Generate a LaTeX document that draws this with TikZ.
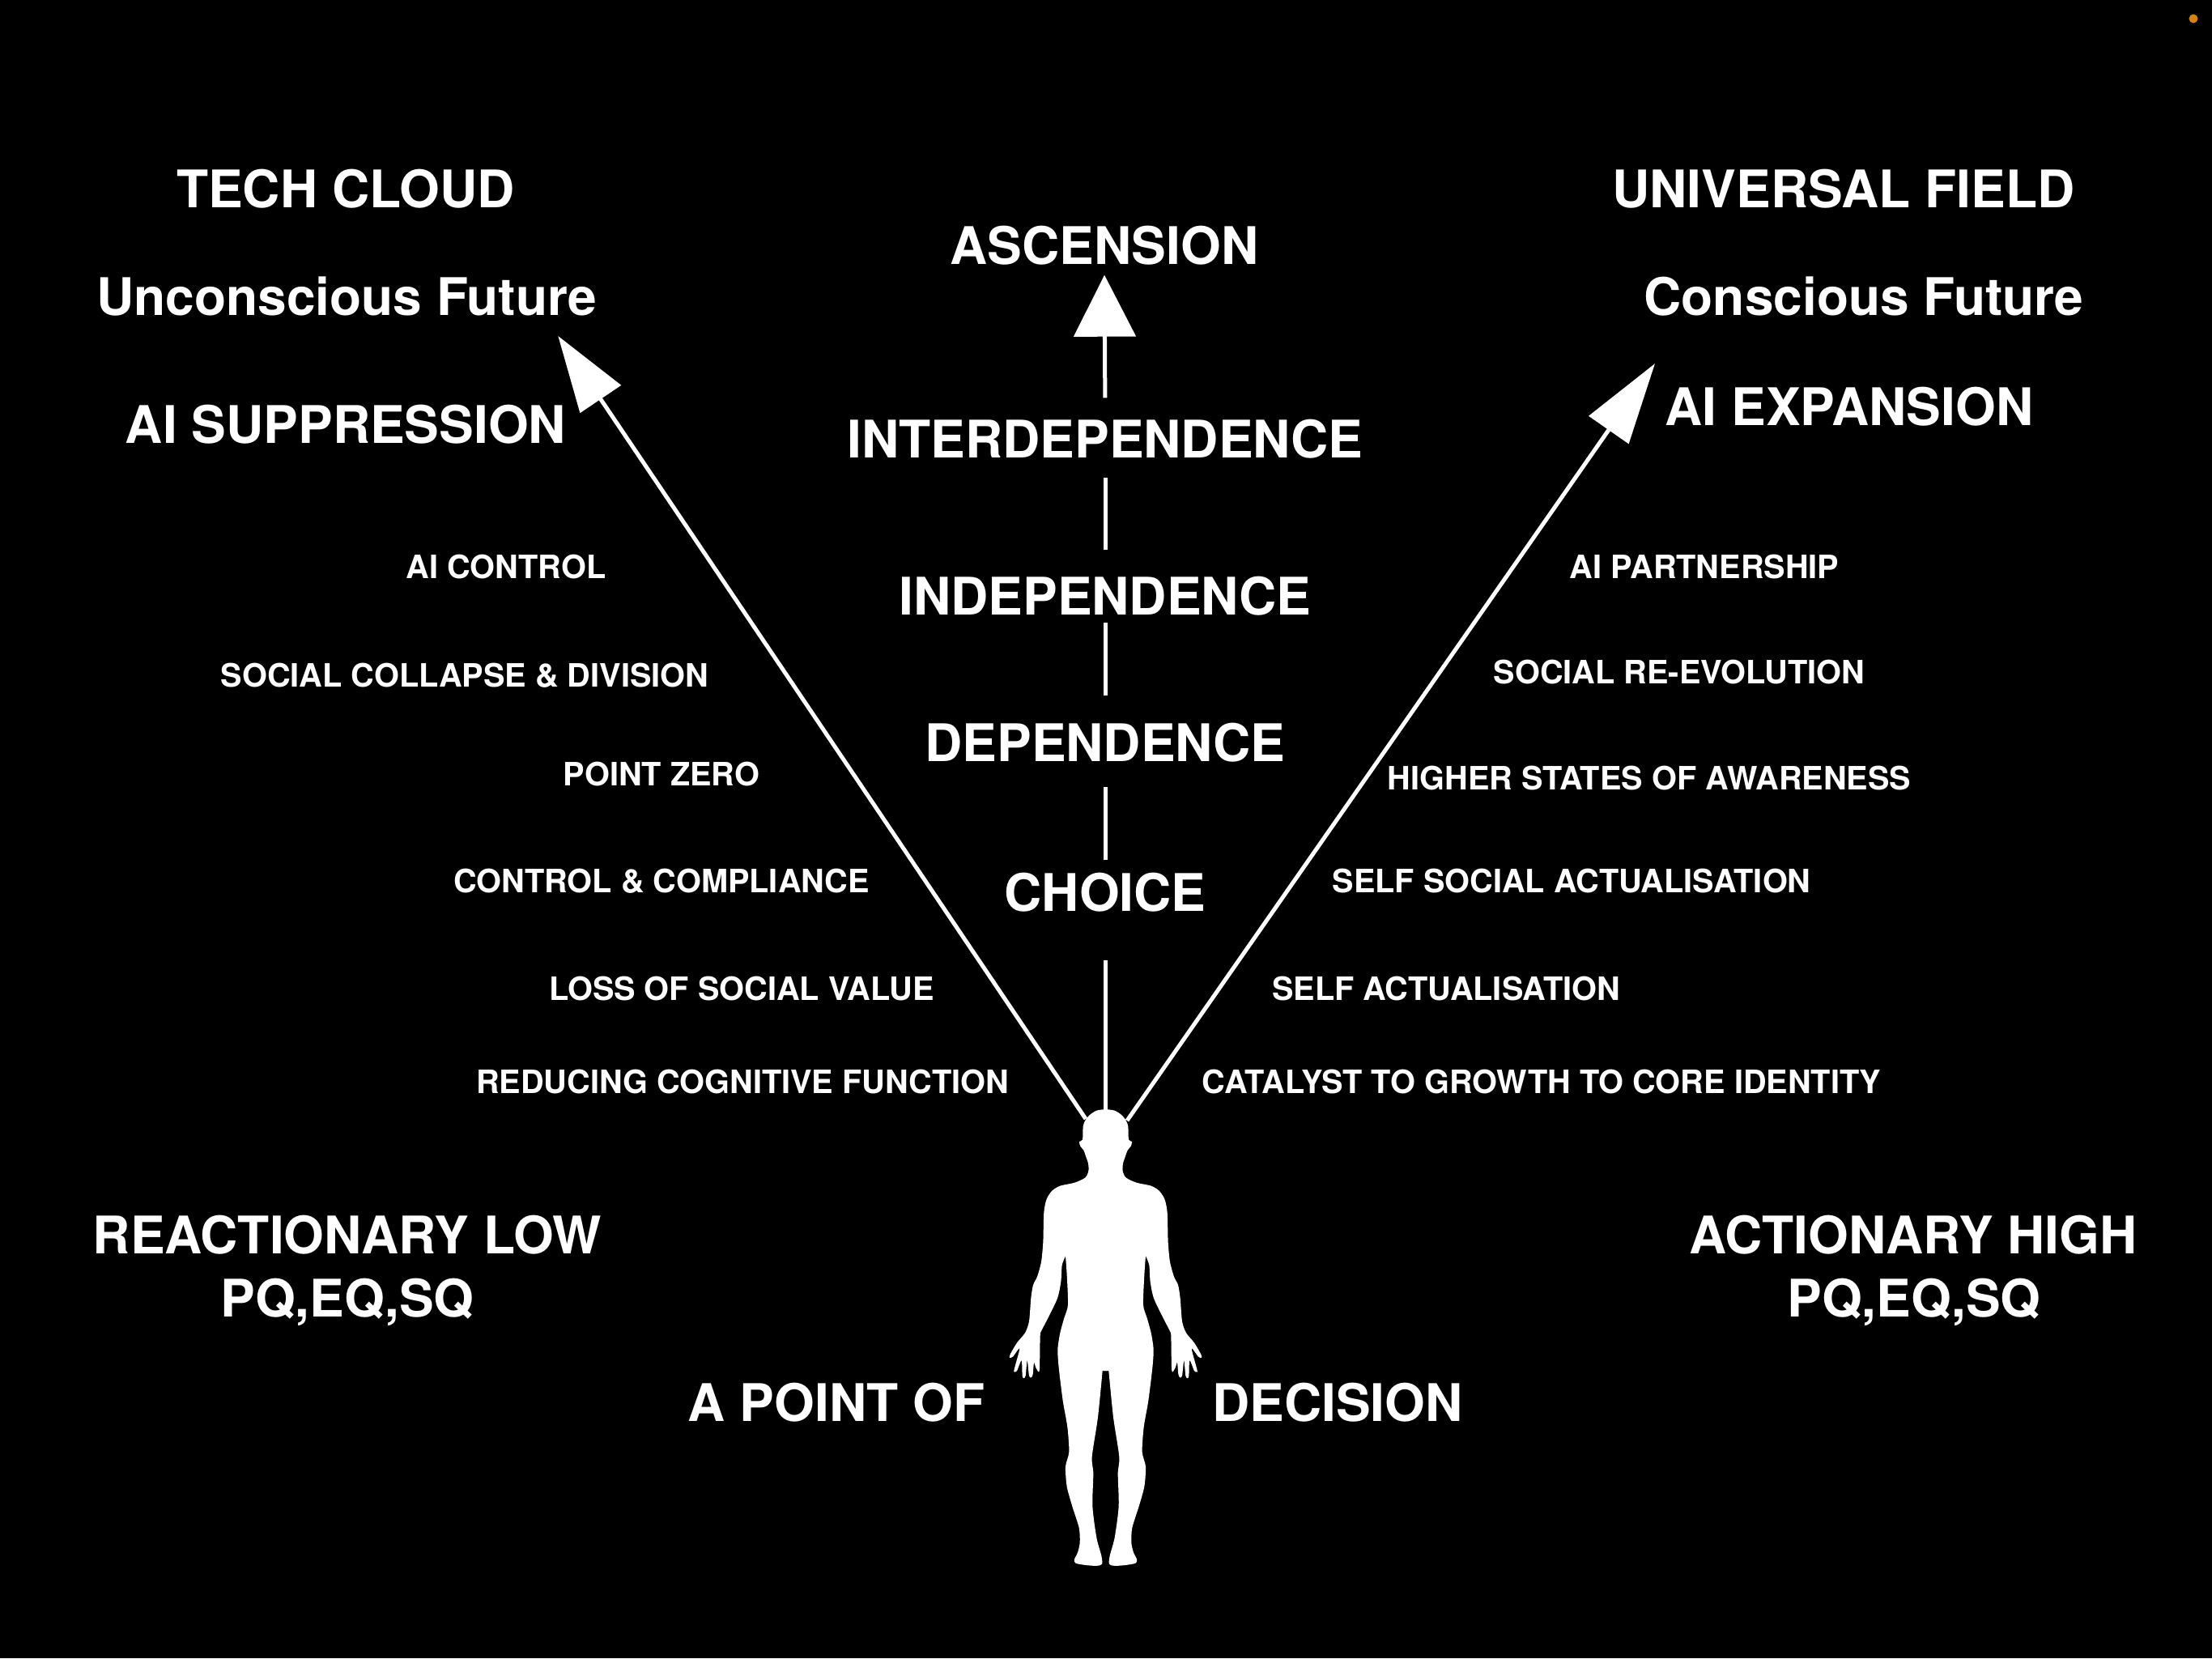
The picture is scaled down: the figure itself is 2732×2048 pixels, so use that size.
\documentclass[tikz,border=0pt]{standalone}
\usepackage{fontspec}
\setmainfont{TeX Gyre Heros}
\usetikzlibrary{arrows.meta}
\tikzset{
  biglabel/.style={inner sep=0pt,text=white,font=\fontsize{64}{70}\selectfont\bfseries,text height=47pt,text depth=0pt,anchor=center},
  smalllabel/.style={inner sep=0pt,text=white,font=\fontsize{39.7}{46}\selectfont\bfseries,text height=30pt,text depth=0pt,anchor=center},
  spine/.style={draw=white,line width=5pt},
  uptip/.style={draw=white,line width=5pt,-{Triangle[length=76pt,width=76pt,fill=white]}},
  lefttip/.style={draw=white,line width=5pt,-{Triangle[length=94pt,width=60pt,fill=white]}},
  righttip/.style={draw=white,line width=5pt,-{Triangle[length=100pt,width=59pt,fill=white]}},
  bodyfill/.style={fill=white,draw=none}
}
\newcommand{\halfbody}{%
  plot[smooth,tension=.45] coordinates {(646,98) (680,102) (705,115) (722,132) (730,150) (732,190) (744,196) (740,210) (728,222) (720,240) (711,262) (710,285) (722,305) (760,320) (815,330) (845,345) (865,370) (875,410) (878,500) (885,560) (900,605) (915,630) (923,670) (930,740) (945,775) (975,805) (1000,840) (1002,850) (990,847) (965,822) (985,885) (985,893) (975,890) (958,858) (955,905) (950,912) (943,905) (937,858) (930,905) (922,910) (916,900) (912,865) (905,880) (895,893) (891,880) (889,785) (885,770) (860,730) (825,670) (812,620) (808,570) (795,542)}
  -- plot[smooth,tension=.45] coordinates {(795,542) (790,600) (786,690) (800,730) (815,775) (824,825) (820,880) (805,980) (788,1060) (782,1135) (795,1180) (790,1240) (770,1300) (745,1365) (742,1410) (750,1440) (762,1460) (758,1472) (720,1478) (680,1480) (660,1475) (662,1450) (680,1395) (695,1300) (692,1200) (697,1150) (675,1030) (658,890)}
  -- (640,890) -- (640,98) -- cycle}
\begin{document}
\begin{tikzpicture}[x=1pt,y=-1pt]
\useasboundingbox (0,0) rectangle (2732,2048);
\fill[black] (0,0) rectangle (2732,2048);
\fill[fill={rgb,255:red,214;green,130;blue,12}] (2709,23) circle (5.5pt);
% figure
\begin{scope}[shift={(1150,1330)},x=0.33333pt,y=-0.408pt]
  \path[bodyfill] \halfbody;
\end{scope}
\begin{scope}[shift={(1581,1330)},x=-0.33333pt,y=-0.408pt]
  \path[bodyfill] \halfbody;
\end{scope}
% anchors
\coordinate (crownL) at (1341,1382);
\coordinate (crownC) at (1365,1373);
\coordinate (crownR) at (1392,1384);
\coordinate (tipL) at (689.3,415);
\coordinate (tipR) at (2044,449);
% spine labels
\node[biglabel] (ascension) at (1364,303) {ASCENSION};
\node[biglabel] (inter) at (1365,542) {INTERDEPENDENCE};
\node[biglabel] (indep) at (1365,736) {INDEPENDENCE};
\node[biglabel] (dep) at (1365,917) {DEPENDENCE};
\node[biglabel] (choice) at (1365,1102) {CHOICE};
% spine
\draw[spine,shorten >=60pt] (crownC) -- (crownC |- choice.south);
\draw[spine,shorten <=16pt,shorten >=31pt] (choice.north) -- (dep.south);
\draw[spine,shorten <=34pt,shorten >=9pt] (dep.north) -- (indep.south);
\draw[spine,shorten <=33pt,shorten >=24pt] (indep.north) -- (inter.south);
\draw[uptip,shorten <=27pt,shorten >=13pt] (inter.north) -- (ascension.south);
% rays
\draw[lefttip] (crownL) -- (tipL);
\draw[righttip] (crownR) -- (tipR);
% headings
\node[biglabel] (techcloud) at (427,233) {TECH CLOUD};
\node[biglabel] (unconscious) at (428,366) {Unconscious Future};
\node[biglabel] (suppression) at (427,524) {AI SUPPRESSION};
\node[biglabel] (universal) at (2277,233) {UNIVERSAL FIELD};
\node[biglabel] (conscious) at (2302,366) {Conscious Future};
\node[biglabel] (expansion) at (2284,502) {AI EXPANSION};
% left small
\node[smalllabel] (l1) at (625,699) {AI CONTROL};
\node[smalllabel] (l2) at (574,833) {SOCIAL COLLAPSE \& DIVISION};
\node[smalllabel] (l3) at (817,955) {POINT ZERO};
\node[smalllabel] (l4) at (817,1087) {CONTROL \& COMPLIANCE};
\node[smalllabel] (l5) at (916,1220) {LOSS OF SOCIAL VALUE};
\node[smalllabel] (l6) at (917,1335) {REDUCING COGNITIVE FUNCTION};
% right small
\node[smalllabel] (r1) at (2105,699) {AI PARTNERSHIP};
\node[smalllabel] (r2) at (2074,829) {SOCIAL RE-EVOLUTION};
\node[smalllabel] (r3) at (2037,960) {HIGHER STATES OF AWARENESS};
\node[smalllabel] (r4) at (1941,1087) {SELF SOCIAL ACTUALISATION};
\node[smalllabel] (r5) at (1786,1220) {SELF ACTUALISATION};
\node[smalllabel] (r6) at (1904,1335) {CATALYST TO GROWTH TO CORE IDENTITY};
% bottom
\node[biglabel] (low) at (429,1525) {REACTIONARY LOW};
\node[biglabel] (lowpq) at (429,1603) {PQ,EQ,SQ};
\node[biglabel] (high) at (2363,1525) {ACTIONARY HIGH};
\node[biglabel] (highpq) at (2364,1603) {PQ,EQ,SQ};
\node[biglabel] (pointof) at (1033,1732) {A POINT OF};
\node[biglabel] (decision) at (1652,1732) {DECISION};
\end{tikzpicture}
\end{document}
